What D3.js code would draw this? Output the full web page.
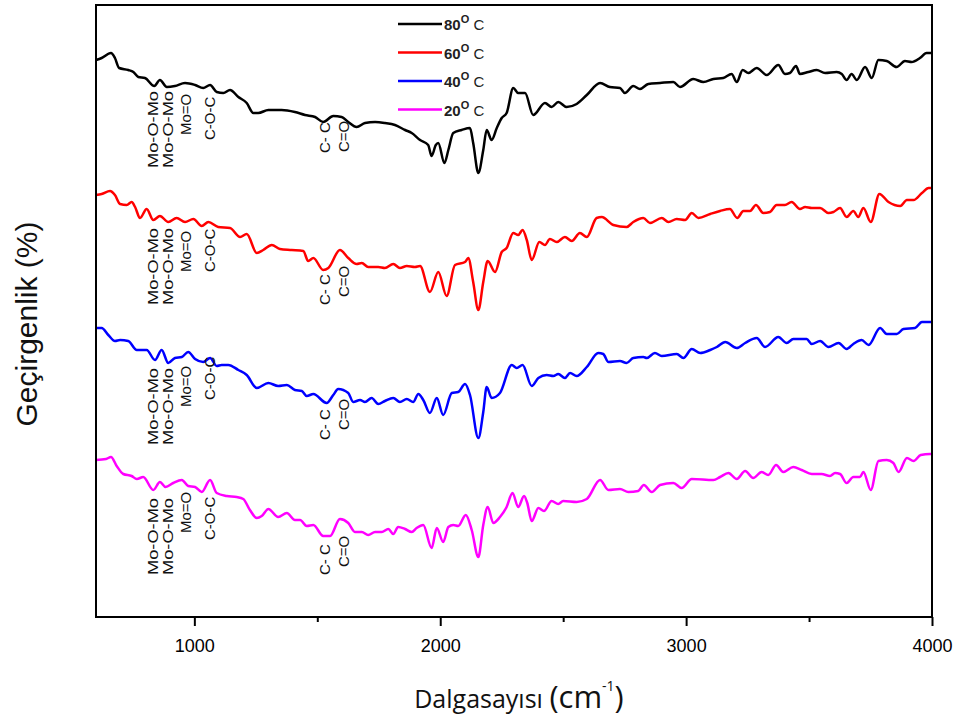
<!DOCTYPE html>
<html><head><meta charset="utf-8">
<script src="https://cdn.jsdelivr.net/npm/d3@7/dist/d3.min.js"></script>
<style>body{margin:0;background:#fff}svg{display:block}</style>
</head><body>
<svg id="c" width="971" height="725"></svg>
<script>
// ---------- DATA ----------
const seriesNames = ["80", "60", "40", "20"];
const seriesColors = ["#000000", "#ff0000", "#0000ff", "#ff00ff"];
const majorTicks = [1000, 2000, 3000, 4000];
const minorTicks = [1500, 2500, 3500];

const wn80 = [600,623,661,677,694,731,752,772,799,837,860,888,921,962,1003,1036,1064,1091,1118,1145,1179,1213,1240,1260,1301,1355,1409,1450,1491,1524,1565,1599,1626,1660,1694,1735,1775,1816,1857,1884,1918,1951,1965,1982,1992,2017,2033,2053,2087,2121,2134,2155,2175,2189,2209,2230,2250,2270,2297,2317,2345,2378,2426,2453,2480,2514,2555,2596,2650,2690,2731,2751,2785,2812,2846,2894,2948,2975,3029,3070,3111,3151,3185,3206,3230,3253,3287,3328,3375,3402,3422,3447,3463,3497,3531,3565,3612,3633,3653,3673,3694,3728,3755,3782,3816,3856,3890,3917,3951,3978,4000];
const t80 = [557,559,564,559,549,547,545,540,539,531,537,530,531,534,532,529,532,525,524,527,520,514,504,504,507,507,505,502,500,495,501,500,495,490,494,495,494,492,487,484,477,472,461,472,474,454,467,484,487,489,474,444,467,487,477,489,499,504,529,524,524,502,514,510,515,510,513,522,534,530,529,524,531,528,533,534,535,530,538,535,538,539,543,535,547,544,549,542,552,543,544,551,543,545,547,544,545,543,537,543,537,550,539,557,556,550,556,555,559,564,564];

const wn60 = [600,623,657,677,698,725,745,759,779,806,833,860,894,928,962,996,1030,1057,1097,1145,1186,1213,1254,1280,1315,1348,1396,1443,1463,1484,1524,1545,1592,1626,1660,1681,1707,1748,1775,1809,1836,1864,1897,1918,1958,1992,2026,2060,2101,2114,2134,2155,2175,2193,2223,2250,2270,2297,2317,2335,2352,2372,2403,2426,2446,2474,2507,2535,2568,2596,2636,2657,2704,2758,2785,2826,2853,2901,2928,2962,2996,3023,3050,3098,3138,3178,3208,3233,3260,3284,3314,3341,3368,3402,3429,3463,3484,3511,3545,3579,3599,3626,3653,3680,3700,3721,3751,3786,3823,3871,3898,3925,3959,3986,4000];
const t60 = [422,423,426,422,413,412,415,410,399,408,397,401,395,399,395,398,391,395,390,389,380,383,364,367,372,368,367,366,356,359,347,349,367,359,353,354,350,350,349,353,349,351,350,351,325,345,321,352,355,359,335,307,335,356,345,365,369,384,382,387,377,357,375,372,378,375,380,376,384,380,399,400,392,390,395,399,394,399,395,398,397,404,399,403,406,408,399,406,406,412,404,405,412,412,415,408,410,409,409,404,405,409,400,406,400,409,395,423,415,411,417,417,424,429,429];

const wn40 = [600,623,650,677,698,731,766,806,840,867,894,921,949,975,1003,1036,1064,1091,1111,1138,1179,1213,1254,1301,1341,1376,1409,1437,1457,1484,1538,1565,1585,1626,1646,1674,1694,1721,1748,1775,1809,1836,1864,1890,1911,1931,1958,1986,2012,2047,2073,2101,2121,2155,2175,2189,2209,2243,2291,2311,2335,2372,2399,2433,2460,2480,2507,2528,2555,2596,2643,2663,2684,2731,2758,2785,2826,2840,2873,2901,2962,2989,3023,3057,3098,3125,3159,3206,3240,3287,3321,3375,3409,3436,3490,3511,3545,3579,3620,3653,3680,3714,3742,3789,3816,3857,3884,3931,3959,3992,4000];
const t40 = [289,289,282,276,277,276,267,267,257,267,254,259,260,265,258,255,259,251,252,252,247,242,229,234,231,232,227,226,221,223,214,222,228,224,215,217,215,219,213,216,219,215,218,215,223,217,204,219,202,224,225,233,222,179,205,230,219,224,252,249,252,231,239,242,241,243,239,244,241,250,264,263,255,256,254,259,260,259,264,261,263,259,268,264,267,270,275,269,274,279,270,280,274,278,278,273,276,270,274,268,273,277,272,289,283,283,288,289,295,295,295];

const wn20 = [600,641,661,684,711,745,766,792,833,860,883,914,949,975,1003,1030,1064,1091,1132,1172,1199,1226,1254,1274,1301,1341,1376,1409,1430,1457,1484,1524,1552,1592,1626,1653,1681,1707,1735,1762,1789,1809,1829,1857,1884,1904,1931,1965,1986,2012,2033,2053,2073,2104,2128,2155,2175,2193,2216,2243,2270,2294,2317,2341,2354,2372,2399,2422,2453,2480,2500,2555,2596,2650,2684,2731,2765,2805,2828,2860,2894,2948,2982,3023,3111,3138,3172,3206,3240,3273,3307,3334,3366,3395,3436,3470,3511,3551,3585,3606,3626,3653,3680,3707,3721,3751,3782,3816,3843,3864,3898,3925,3954,3992,4000];
const t20 = [157,158,160,151,143,141,138,140,127,135,130,134,137,131,130,125,137,124,121,120,118,107,99,101,108,100,104,97,97,91,92,81,81,98,94,85,85,82,85,85,88,83,90,88,85,89,92,69,89,75,90,92,91,102,87,60,92,110,94,100,110,124,110,121,114,96,109,106,116,113,116,115,118,137,127,128,125,126,132,125,132,134,129,138,137,140,144,138,146,139,145,142,152,145,150,147,143,143,141,144,143,134,140,140,145,127,156,157,154,145,159,156,162,163,163];

// band annotations: label, wavenumber, label base level for each series (80,60,40,20)
const bandLabels = ["Mo-O-Mo", "Mo-O-Mo", "Mo=O", "C-O-C", "C- C", "C=O"];
const bandWn = [852, 913, 988, 1086, 1552, 1629];
const bandBase80 = [449, 449, 482, 477, 464, 465];
const bandBase60 = [312, 312, 345, 345, 312, 320];
const bandBase40 = [172, 172, 210, 217, 177, 187];
const bandBase20 = [42, 42, 84, 77, 42, 50];

// ---------- CHART ----------
const svg = d3.select("#c");
const L = 96, R = 932, T = 5, B = 617;
const x = d3.scaleLinear().domain([600, 4000]).range([L, R]);
const y = d3.scaleLinear().domain([0, 612]).range([B, T]);

const series = [
  {wn: wn80, t: t80, base: bandBase80},
  {wn: wn60, t: t60, base: bandBase60},
  {wn: wn40, t: t40, base: bandBase40},
  {wn: wn20, t: t20, base: bandBase20}
];

const line = d3.line().x(d => x(d[0])).y(d => y(d[1])).curve(d3.curveMonotoneX);
const plot = svg.append("g");
series.forEach((s, i) => {
  const pts = s.wn.map((w, k) => [w, s.t[k]]);
  plot.append("path").attr("d", line(pts)).attr("fill", "none")
    .attr("stroke", seriesColors[i]).attr("stroke-width", 2.5).attr("stroke-linejoin", "round");
});

// band labels
series.forEach((s, i) => {
  bandLabels.forEach((lab, j) => {
    const px = x(bandWn[j]), py = y(s.base[j]);
    const t = plot.append("text").attr("transform", `translate(${px},${py}) rotate(-90)`)
      .attr("font-family", "Liberation Sans, Arial, sans-serif").attr("font-size", 15)
      .attr("fill", "#111").text(lab);
    if (lab === "Mo-O-Mo") t.attr("textLength", 77).attr("lengthAdjust", "spacingAndGlyphs");
  });
});

// frame
svg.append("rect").attr("x", L).attr("y", T).attr("width", R - L).attr("height", B - T)
  .attr("fill", "none").attr("stroke", "#000").attr("stroke-width", 2);

// axes
const axMaj = d3.axisBottom(x).tickValues(majorTicks).tickSize(9).tickPadding(13).tickFormat(d3.format("d"));
const gMaj = svg.append("g").attr("transform", `translate(0,${B})`).call(axMaj);
gMaj.select(".domain").remove();
gMaj.selectAll("line").attr("stroke-width", 2);
gMaj.selectAll("text").attr("font-family", "Liberation Sans, Arial, sans-serif").attr("font-size", 18).attr("fill", "#000");
const axMin = d3.axisBottom(x).tickValues(minorTicks).tickSize(5).tickFormat("");
const gMin = svg.append("g").attr("transform", `translate(0,${B})`).call(axMin);
gMin.select(".domain").remove();
gMin.selectAll("line").attr("stroke-width", 2);

// axis titles
const xt = svg.append("text").attr("x", 519).attr("y", 708).attr("text-anchor", "middle")
  .attr("font-family", "Open Sans, sans-serif").attr("fill", "#111");
xt.append("tspan").attr("font-size", 25).text("Dalgasayısı ");
xt.append("tspan").attr("font-size", 31).text("(cm");
xt.append("tspan").attr("font-size", 14).attr("dy", -17).text("-1");
xt.append("tspan").attr("font-size", 31).attr("dy", 17).text(")");

svg.append("text").attr("transform", "translate(37,324) rotate(-90)").attr("text-anchor", "middle")
  .attr("font-family", "Liberation Sans, Arial, sans-serif").attr("font-size", 30).attr("fill", "#111")
  .text("Geçirgenlik (%)");

// legend
const lg = svg.append("g");
seriesNames.forEach((n, i) => {
  const ly = 24 + i * 28.5;
  lg.append("line").attr("x1", 398).attr("x2", 442).attr("y1", ly).attr("y2", ly)
    .attr("stroke", seriesColors[i]).attr("stroke-width", 2.4);
  const tx = lg.append("text").attr("x", 444).attr("y", ly + 6)
    .attr("font-family", "Liberation Sans, Arial, sans-serif").attr("fill", "#222");
  tx.append("tspan").attr("font-size", 15).attr("font-weight", "bold").text(n);
  tx.append("tspan").attr("font-size", 11).attr("font-weight", "bold").attr("dy", -7).text("O");
  tx.append("tspan").attr("font-size", 15).attr("dy", 7).text(" C");
});
</script>
</body></html>
